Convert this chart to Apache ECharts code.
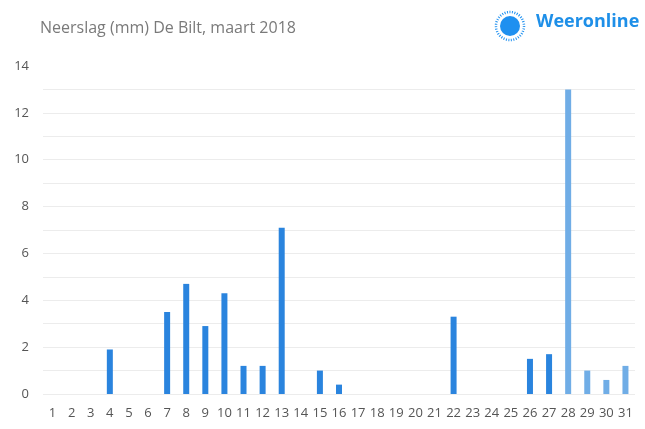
<!DOCTYPE html>
<html>
<head>
<meta charset="utf-8">
<script src="https://cdn.jsdelivr.net/npm/echarts@6/dist/echarts.min.js"></script>
<style>
  html, body { margin: 0; padding: 0; background: #fff; }
  #chart { width: 645px; height: 429px; }
</style>
</head>
<body>
<div id="chart"></div>
<script>
var days = [];
for (var d = 1; d <= 31; d++) days.push(String(d));

// neerslag in mm per dag
var rain = [0, 0, 0, 1.9, 0, 0, 3.5, 4.7, 2.9, 4.3, 1.2, 1.2, 7.1, 0, 1.0, 0.4,
            0, 0, 0, 0, 0, 3.3, 0, 0, 0, 1.5, 1.7, 13.0, 1.0, 0.6, 1.2];
// laatste dagen (voorlopig) lichter gekleurd
var lightFrom = 28;

var barData = rain.map(function (v, i) {
  return {
    value: v,
    itemStyle: { color: (i + 1) >= lightFrom ? '#70ADE6' : '#2A84DE' }
  };
});

var chart = echarts.init(document.getElementById('chart'));
chart.setOption({
  animation: false,
  textStyle: { fontFamily: 'Open Sans' },
  title: {
    text: 'Neerslag (mm) De Bilt, maart 2018',
    left: 35,
    top: 15,
    textStyle: { color: '#7a7a7a', fontSize: 16, fontWeight: 'normal', fontFamily: 'Open Sans' }
  },
  graphic: [
    {
      type: 'circle',
      shape: { cx: 510, cy: 26, r: 10 },
      style: { fill: '#1E90F0' }
    },
    {
      type: 'circle',
      shape: { cx: 510, cy: 26, r: 14 },
      style: { fill: 'none', stroke: '#1E90F0', lineWidth: 2.5, lineDash: [1, 1.5] }
    },
    {
      type: 'text',
      left: 536,
      top: 13,
      style: { text: 'Weeronline', fill: '#1E8FE8', font: 'bold 18px "Open Sans"' }
    }
  ],
  grid: { left: 43, right: 10, top: 66, bottom: 35 },
  xAxis: {
    type: 'category',
    data: days,
    axisLine: { show: false },
    axisTick: { show: false },
    axisLabel: { color: '#555', fontSize: 13, margin: 13, interval: 0 }
  },
  yAxis: {
    type: 'value',
    min: 0,
    max: 14,
    interval: 1,
    axisLine: { show: false },
    axisTick: { show: false },
    splitLine: { showMaxLine: false, lineStyle: { color: '#ececec', width: 1 } },
    axisLabel: {
      color: '#555',
      fontSize: 13,
      margin: 14,
      formatter: function (v) { return v % 2 === 0 ? v : ''; }
    }
  },
  series: [{
    type: 'bar',
    data: barData,
    barWidth: 6
  }]
});
</script>
</body>
</html>
